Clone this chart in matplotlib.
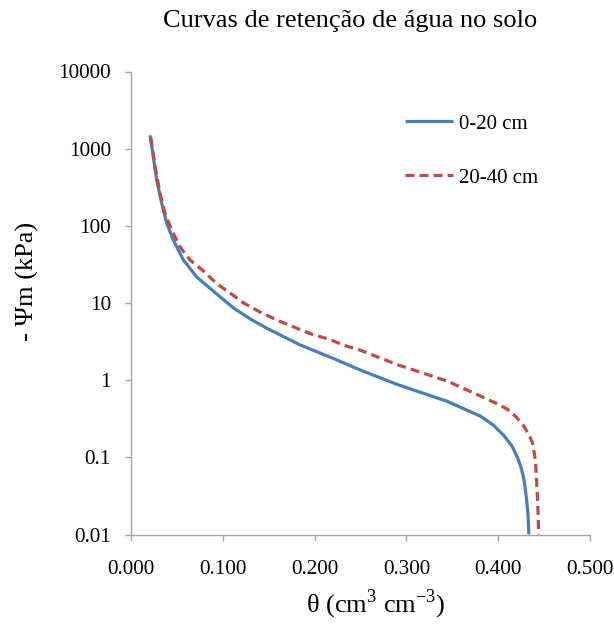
import numpy as np
import matplotlib
matplotlib.use("Agg")
from matplotlib import pyplot as plt
from matplotlib.ticker import FixedLocator, NullLocator

plt.rcParams['font.family'] = ['Liberation Serif', 'DejaVu Serif']
plt.rcParams['mathtext.fontset'] = 'custom'
plt.rcParams['mathtext.rm'] = 'Liberation Serif'

# 0-20 cm layer
theta_0_20 = [0.0207, 0.0243, 0.0281, 0.0335, 0.0390, 0.0462, 0.0571, 0.0717, 0.0936,
              0.1117, 0.130, 0.148, 0.1845, 0.2209, 0.250, 0.290, 0.3447, 0.381,
              0.395, 0.4064, 0.415, 0.421, 0.4255, 0.4283, 0.431, 0.4325, 0.4334]
psi_0_20 = [1490, 780, 390, 195, 107, 65, 36, 21.7, 13.0,
            8.6, 6.2, 4.7, 2.85, 1.9, 1.35, 0.88, 0.53, 0.34,
            0.26, 0.19, 0.14, 0.10, 0.07, 0.05, 0.028, 0.018, 0.01]

# 20-40 cm layer
theta_20_40 = [0.0215, 0.0226, 0.0262, 0.0317, 0.0371, 0.0444, 0.0535, 0.0644, 0.0789,
               0.093, 0.1117, 0.1226, 0.140, 0.159, 0.1954, 0.2172, 0.2318, 0.250,
               0.290, 0.3447, 0.381, 0.398, 0.410, 0.420, 0.4283, 0.434, 0.4374,
               0.440, 0.441, 0.442, 0.4429, 0.4436, 0.444]
psi_20_40 = [1400, 1160, 580, 260, 144, 88, 53, 36, 26,
             18, 12.5, 10, 7.7, 6.0, 4.0, 3.35, 2.83, 2.44,
             1.59, 0.97, 0.62, 0.50, 0.42, 0.33, 0.25, 0.19, 0.154,
             0.10, 0.077, 0.045, 0.028, 0.017, 0.01]

xticks = [0.0, 0.1, 0.2, 0.3, 0.4, 0.5]
xticklabels = ["0.000", "0.100", "0.200", "0.300", "0.400", "0.500"]
yticks = [0.01, 0.1, 1, 10, 100, 1000, 10000]
yticklabels = ["0.01", "0.1", "1", "10", "100", "1000", "10000"]

W, H = 614, 628
fig = plt.figure(figsize=(W / 100, H / 100), dpi=100)
ax = fig.add_axes([131 / W, 1 - 534.5 / H, (590 - 131) / W, (534.5 - 71.5) / H])

ax.plot(theta_0_20, psi_0_20, color="#4A7EBB", lw=2.3, label="0-20 cm",
        solid_capstyle="butt", solid_joinstyle="round")
ax.plot(theta_20_40, psi_20_40, color="#BE4B48", lw=2.3, label="20-40 cm",
        linestyle=(0, (2.8, 1.6)), dash_capstyle="butt")

ax.set_yscale("log")
ax.set_xlim(0, 0.5)
ax.set_ylim(0.01, 10000)
ax.yaxis.set_major_locator(FixedLocator(yticks))
ax.yaxis.set_minor_locator(NullLocator())
ax.set_yticklabels(yticklabels)
ax.set_xticks(xticks)
ax.set_xticklabels(xticklabels)

grey = "#A6A6A6"
for s in ["top", "right"]:
    ax.spines[s].set_visible(False)
for s in ["left", "bottom"]:
    ax.spines[s].set_color(grey)
    ax.spines[s].set_linewidth(1.0)
ax.tick_params(axis="both", direction="out", length=4.5, width=1.0, color=grey,
               labelsize=15.2, labelcolor="black")
ax.tick_params(axis="y", pad=10)
ax.tick_params(axis="x", pad=14)

fig.text(350 / W, 1 - 21 / H, "Curvas de retenção de água no solo", ha="center",
         va="center", fontsize=19)
fig.text(376 / W, 1 - 604 / H, "θ (cm$^{3}$ cm$^{-3}$)", ha="center", va="center",
         fontsize=19)
fig.text(27 / W, 1 - 281 / H, "- Ψm (kPa)", ha="center", va="center",
         fontsize=19, rotation=90)

ax.legend(loc="upper left", bbox_to_anchor=(405 / W, 1 - 114 / H),
          bbox_transform=fig.transFigure, frameon=False, fontsize=15,
          handlelength=2.3, handletextpad=0.3, labelspacing=1.65,
          borderpad=0, borderaxespad=0)

fig.savefig("out.png", dpi=100)
